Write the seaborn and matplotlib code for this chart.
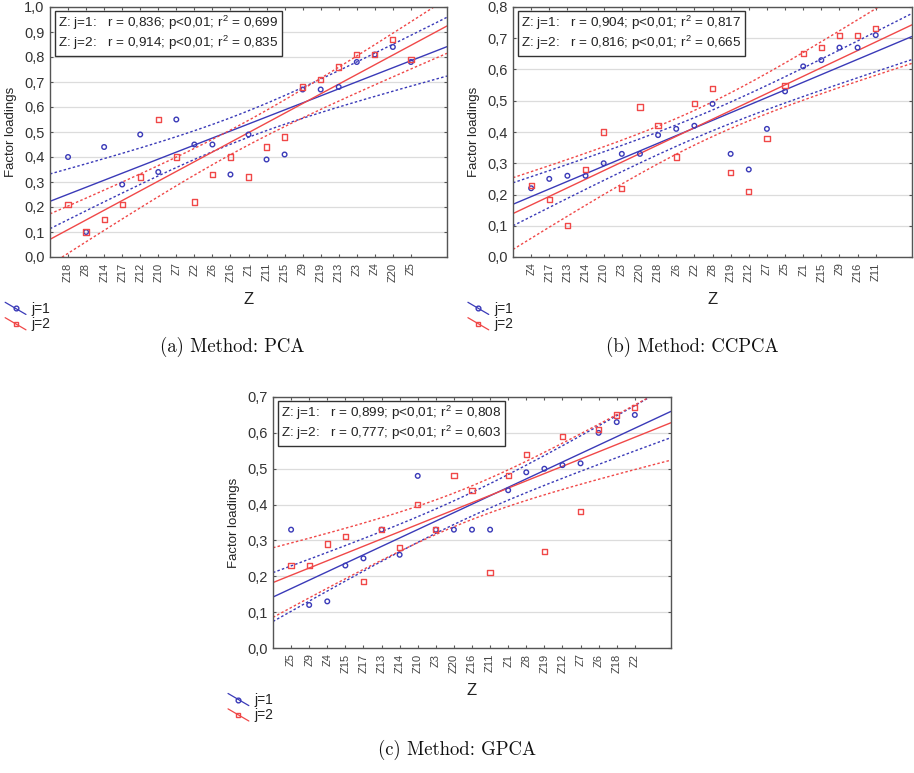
import numpy as np
import matplotlib
matplotlib.use("Agg")
import matplotlib.pyplot as plt
import seaborn as sns
from matplotlib.lines import Line2D
from matplotlib.legend_handler import HandlerLine2D
from matplotlib.ticker import FuncFormatter, MultipleLocator, FixedLocator

# ---------------- data ----------------
pca_vars = ["Z18", "Z8", "Z14", "Z17", "Z12", "Z10", "Z7", "Z2", "Z6", "Z16",
            "Z1", "Z11", "Z15", "Z9", "Z19", "Z13", "Z3", "Z4", "Z20", "Z5"]
pca_j1 = [0.40, 0.10, 0.44, 0.29, 0.49, 0.34, 0.55, 0.45, 0.45, 0.33,
          0.49, 0.39, 0.41, 0.67, 0.67, 0.68, 0.78, 0.81, 0.84, 0.78]
pca_j2 = [0.21, 0.10, 0.15, 0.21, 0.32, 0.55, 0.40, 0.22, 0.33, 0.40,
          0.32, 0.44, 0.48, 0.68, 0.71, 0.76, 0.81, 0.81, 0.87, 0.79]

ccpca_vars = ["Z4", "Z17", "Z13", "Z14", "Z10", "Z3", "Z20", "Z18", "Z6", "Z2",
              "Z8", "Z19", "Z12", "Z7", "Z5", "Z1", "Z15", "Z9", "Z16", "Z11"]
ccpca_j1 = [0.22, 0.25, 0.26, 0.26, 0.30, 0.33, 0.33, 0.39, 0.41, 0.42,
            0.49, 0.33, 0.28, 0.41, 0.53, 0.61, 0.63, 0.67, 0.67, 0.71]
ccpca_j2 = [0.23, 0.185, 0.10, 0.28, 0.40, 0.22, 0.48, 0.42, 0.32, 0.49,
            0.54, 0.27, 0.21, 0.38, 0.55, 0.65, 0.67, 0.71, 0.71, 0.73]

gpca_vars = ["Z5", "Z9", "Z4", "Z15", "Z17", "Z13", "Z14", "Z10", "Z3", "Z20",
             "Z16", "Z11", "Z1", "Z8", "Z19", "Z12", "Z7", "Z6", "Z18", "Z2"]
gpca_j1 = [0.33, 0.12, 0.13, 0.23, 0.25, 0.33, 0.26, 0.48, 0.33, 0.33,
           0.33, 0.33, 0.44, 0.49, 0.50, 0.51, 0.515, 0.60, 0.63, 0.65]
gpca_j2 = [0.23, 0.23, 0.29, 0.31, 0.185, 0.33, 0.28, 0.40, 0.33, 0.48,
           0.44, 0.21, 0.48, 0.54, 0.27, 0.59, 0.38, 0.61, 0.65, 0.67]

stats_pca = ["Z: j=1:   r = 0,836; p<0,01; r$^2$ = 0,699",
             "Z: j=2:   r = 0,914; p<0,01; r$^2$ = 0,835"]
stats_ccpca = ["Z: j=1:   r = 0,904; p<0,01; r$^2$ = 0,817",
               "Z: j=2:   r = 0,816; p<0,01; r$^2$ = 0,665"]
stats_gpca = ["Z: j=1:   r = 0,899; p<0,01; r$^2$ = 0,808",
              "Z: j=2:   r = 0,777; p<0,01; r$^2$ = 0,603"]

captions = ["(a) Method: PCA", "(b) Method: CCPCA", "(c) Method: GPCA"]
series_labels = ["j=1", "j=2"]

# ---------------- style ----------------
sns.set_style("white")
plt.rcParams["font.family"] = ["Liberation Sans", "DejaVu Sans"]
plt.rcParams["mathtext.fontset"] = "custom"
plt.rcParams["mathtext.rm"] = "Liberation Sans"
plt.rcParams["mathtext.it"] = "Liberation Sans:italic"

BLUE = "#3a3ab8"
RED = "#f04848"
T975 = 2.100922  # t quantile, df = 18


class SlantHandler(HandlerLine2D):
    def create_artists(self, legend, orig_handle, xdescent, ydescent,
                       width, height, fontsize, trans):
        x0 = -xdescent
        x1 = -xdescent + width
        yt = -ydescent + height * 1.05
        yb = -ydescent - height * 0.2
        ln = Line2D([x0, x1], [yt, yb], color=orig_handle.get_color(), lw=0.9)
        mk = Line2D([(x0 + x1) / 2], [(yt + yb) / 2],
                    marker=orig_handle.get_marker(), markersize=3.4,
                    mfc="none", mec=orig_handle.get_color(), mew=1.0, ls="none")
        ln.set_transform(trans)
        mk.set_transform(trans)
        return [ln, mk]


def comma(v, pos):
    return f"{v:.1f}".replace(".", ",")


def draw_panel(ax, names, j1, j2, ymax, stats):
    n = len(names)
    pos = np.arange(1, n + 1)
    xmax = n + 2
    ax.set_xlim(0, xmax)
    ax.set_ylim(0, ymax)
    # grid
    ax.set_xticks(pos)
    ax.set_xticklabels(names, rotation=90, fontsize=8, color="#444444")
    ax.xaxis.set_minor_locator(FixedLocator(np.arange(2, xmax + 1, 2)))
    ax.yaxis.set_major_locator(MultipleLocator(0.1))
    ax.yaxis.set_major_formatter(FuncFormatter(comma))
    ax.grid(which="minor", axis="x", color="#dcdcdc", lw=0.9)
    ax.grid(which="major", axis="y", color="#dcdcdc", lw=0.9)
    ax.grid(which="major", axis="x", visible=False)
    ax.set_axisbelow(True)
    ax.tick_params(axis="x", which="major", direction="in", length=2.5,
                   top=True, bottom=True, pad=4, colors="#555555",
                   labelcolor="#444444")
    ax.tick_params(axis="x", which="minor", length=0)
    ax.tick_params(axis="y", which="major", direction="in", length=2.5,
                   left=True, right=True, labelsize=10.5, colors="#555555",
                   labelcolor="#333333", pad=4)
    for sp in ax.spines.values():
        sp.set_color("#555555")
        sp.set_linewidth(1.0)
        sp.set_visible(True)

    handles = []
    for vals, color, marker in [(j1, BLUE, "o"), (j2, RED, "s")]:
        y = np.asarray(vals, dtype=float)
        # fitted line through seaborn (extends over whole axis)
        sns.regplot(x=pos, y=y, ax=ax, scatter=False, ci=None, truncate=False,
                    color=color, line_kws=dict(lw=1.0))
        # analytic 95% confidence band for the mean
        b, a = np.polyfit(pos, y, 1)
        resid = y - (a + b * pos)
        s = np.sqrt(np.sum(resid ** 2) / (n - 2))
        xg = np.linspace(0, xmax, 200)
        se = s * np.sqrt(1.0 / n + (xg - pos.mean()) ** 2 / np.sum((pos - pos.mean()) ** 2))
        yh = a + b * xg
        for sign in (1, -1):
            ax.plot(xg, yh + sign * T975 * se, color=color, lw=1.0,
                    ls=(0, (1.8, 1.6)))
        handles.append(Line2D([], [], color=color, marker=marker))
    for vals, color, marker, ms in [(j1, BLUE, "o", 11), (j2, RED, "s", 14)]:
        sns.scatterplot(x=pos, y=vals, ax=ax, marker=marker, s=ms,
                        facecolors="none", edgecolor=color, linewidth=1.0,
                        zorder=4)
    ax.set_xlim(0, xmax)
    ax.set_ylim(0, ymax)

    ax.text(0.02, 0.972, stats[0] + "\n" + stats[1], transform=ax.transAxes,
            va="top", ha="left", fontsize=9.7, color="#222222", linespacing=1.15,
            bbox=dict(boxstyle="square,pad=0.25", fc="white", ec="#333333", lw=1.0),
            zorder=6)
    ax.set_ylabel("Factor loadings", fontsize=9.5, color="#222222", labelpad=5)
    ax.set_xlabel("Z", fontsize=12, color="#222222", labelpad=7)
    leg = ax.legend(handles, series_labels, handler_map={Line2D: SlantHandler()},
                    loc="upper left", bbox_to_anchor=(-0.113, -0.178),
                    frameon=False, fontsize=10, handlelength=1.5,
                    handletextpad=0.4, labelspacing=0.1, borderpad=0,
                    borderaxespad=0)
    for t in leg.get_texts():
        t.set_color("#222222")


W, H = 914, 773
fig = plt.figure(figsize=(W / 100, H / 100), dpi=100)
ax_a = fig.add_axes([50 / W, 1 - 257 / H, 397 / W, 250 / H])
ax_b = fig.add_axes([513 / W, 1 - 257 / H, 399 / W, 250 / H])
ax_c = fig.add_axes([273 / W, 1 - 648 / H, 398 / W, 251 / H])

draw_panel(ax_a, pca_vars, pca_j1, pca_j2, 1.0, stats_pca)
draw_panel(ax_b, ccpca_vars, ccpca_j1, ccpca_j2, 0.8, stats_ccpca)
draw_panel(ax_c, gpca_vars, gpca_j1, gpca_j2, 0.7, stats_gpca)

cap_kw = dict(fontsize=13.5, family="cmr10", ha="center", va="center", color="#111111")
fig.text(232 / W, 1 - 347 / H, captions[0], **cap_kw)
fig.text(692 / W, 1 - 347 / H, captions[1], **cap_kw)
fig.text(457 / W, 1 - 750 / H, captions[2], **cap_kw)

fig.savefig("out.png", dpi=100)
